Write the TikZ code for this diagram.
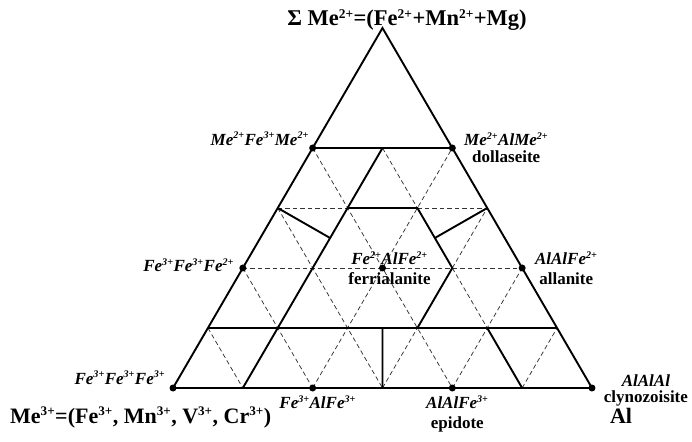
\documentclass[tikz,border=0pt]{standalone}
\usepackage{fontspec,graphicx}
\setmainfont{Liberation Serif}
\usetikzlibrary{positioning}
\definecolor{ink}{HTML}{000000}
\definecolor{grid}{HTML}{333333}
\newcommand\chg[1]{\textsuperscript{\scalebox{0.85}{#1}}}
\tikzset{edge/.style={line width=1.9pt,draw=ink,line join=miter},gridline/.style={dash pattern=on 4.5pt off 3pt,line width=0.75pt,draw=grid},dot/.style={circle,fill=ink,inner sep=0pt,minimum size=7pt},phase/.style={font=\fontsize{17}{17}\selectfont\bfseries\itshape,inner sep=0pt,align=center},axis/.style={font=\fontsize{22}{24}\selectfont\bfseries,inner sep=0pt}}

\begin{document}
\begin{tikzpicture}[x={(69.83pt,0pt)},y={(34.915pt,60pt)}]
\useasboundingbox (-173pt,-53pt) rectangle (519pt,388pt);
% lattice points (a,b)
\foreach \a in {0,...,6}{\foreach \b in {0,...,6}{\coordinate (p\a\b) at (\a,\b);}}
\coordinate (q1) at (1,2.5);\coordinate (q2) at (2.5,2.5);\coordinate (q3) at (2.5,1);
% dashed grid
\draw[gridline](p03)--(p13) (p23)--(p33) (p02)--(p42);
\draw[gridline](p20)--(p24) (p30)--(p31) (p32)--(p33) (p40)--(p42) (p50)--(p51);
\draw[gridline](p01)--(p10) (p02)--(p20) (p03)--(p30) (p04)--(p40) (p14)--(p23) (p32)--(p41);
% field boundaries
\draw[edge](p00)--(p60)--(p06)--cycle;
\draw[edge](p04)--(p24) (p01)--(p51) (p10)--(p14) (p13)--(p23)--(p32)--(p31) (p41)--(p50) (p30)--(q3) (p03)--(q1) (p33)--(q2);
\node[phase,xshift=7pt] (l22) at (p22) {Fe\chg{2+}AlFe\chg{2+}\\[3pt]\upshape ferrialanite};
\foreach \n in {00,20,40,60,02,22,42,04,24} \node[dot] (d\n) at (p\n) {};
\node[phase,above left=0pt and 1pt of d04] (l04) {Me\chg{2+}Fe\chg{3+}Me\chg{2+}};
\node[phase,right=8pt of d24] (l24) {Me\chg{2+}AlMe\chg{2+}\\[0pt]\upshape dollaseite};
\node[phase,left=5pt of d02,yshift=3pt] (l02) {Fe\chg{3+}Fe\chg{3+}Fe\chg{2+}};
\node[phase,right=9pt of d42] (l42) {AlAlFe\chg{2+}\\[3pt]\upshape allanite};
\node[phase,above left=1pt and 5pt of d00] (l00) {Fe\chg{3+}Fe\chg{3+}Fe\chg{3+}};
\node[phase,below=4pt of d20,xshift=5pt] (l20) {Fe\chg{3+}AlFe\chg{3+}};
\node[phase,below=4pt of d40,xshift=5pt] (l40) {AlAlFe\chg{3+}\\[3pt]\upshape epidote};
\node[phase,right=8pt of d60,yshift=-2pt] (l60) {AlAlAl\\[-1pt]\upshape clynozoisite};
% axis titles
\node[axis,font=\fontsize{22.5}{24}\selectfont\bfseries,anchor=base] (top) at (234pt,362pt) {Σ Me\chg{2+}=(Fe\chg{2+}+Mn\chg{2+}+Mg)};
\node[axis,anchor=base west] (bot) at (-163pt,-35pt) {Me\chg{3+}=(Fe\chg{3+}, Mn\chg{3+}, V\chg{3+}, Cr\chg{3+})};
\node[axis,anchor=base] (al) at (448pt,-35pt) {Al};
\end{tikzpicture}
\end{document}
